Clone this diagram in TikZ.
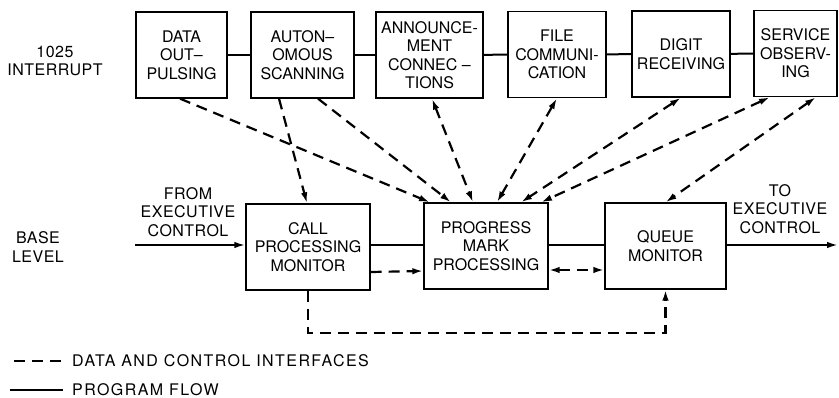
\documentclass[tikz,border=0pt]{standalone}
\usepackage{fontspec}
\setmainfont{TeX Gyre Heros}
\usetikzlibrary{arrows.meta}
\newcommand\boxfont{\fontsize{16}{18.5}\selectfont}
\newcommand\lblfont{\fontsize{16}{18.5}\selectfont\addfontfeature{LetterSpace=3}}
\newcommand\legfont{\fontsize{16}{18.5}\selectfont\addfontfeature{LetterSpace=9}}
\tikzset{
  box/.style={draw, line width=1.3pt, align=center, inner sep=0pt, font=\boxfont},
  topbox/.style={box, minimum height=86pt},
  lowbox/.style={box, minimum width=124pt, minimum height=86pt},
  lbl/.style={align=center, inner sep=0pt, font=\lblfont},
  flow/.style={line width=2pt},
  iface/.style={line width=2.2pt, dash pattern=on 11pt off 7pt},
}
\begin{document}
\begin{tikzpicture}[x=1pt, y=-1pt, >={Latex[length=11pt,width=6.5pt]}]
\useasboundingbox (0,0) rectangle (839,398);

% interrupt-level programs
\node[topbox, minimum width=91pt]  (dop) at (181.5,55) {DATA\\OUT–\\PULSING};
\node[topbox, minimum width=103pt] (aut) at (302.5,55) {AUTON–\\OMOUS\\SCANNING};
\node[topbox, minimum width=107pt] (ann) at (429.5,55) {ANNOUNCE-\\MENT\\CONNEC –\\TIONS};
\node[topbox, minimum width=98pt]  (fil) at (557,54.5) {FILE\\COMMUNI-\\CATION};
\node[topbox, minimum width=98pt]  (dig) at (681,54) {DIGIT\\RECEIVING};
\node[topbox, minimum width=83pt]  (svc) at (795.5,53.5) {SERVICE\\OBSERV-\\ING};

\draw[flow] (dop) -- (aut);
\draw[flow] (aut) -- (ann);
\draw[flow] (ann) -- (fil);
\draw[flow] (fil) -- (dig);
\draw[flow] (dig) -- (svc);

% base-level programs
\node[lowbox] (cpm) at (308,247) {CALL\\PROCESSING\\MONITOR};
\node[lowbox] (pmp) at (486,246) {PROGRESS\\MARK\\PROCESSING};
\node[lowbox, minimum width=121pt] (qm) at (665.5,246) {QUEUE\\MONITOR};

% level labels
\node[lbl] (intr) at (55,61) {1025\\INTERRUPT};
\node[lbl] (base) at (38,247) {BASE\\LEVEL};
\node[lbl] (from) at (188,212) {FROM\\EXECUTIVE\\CONTROL};
\node[lbl] (to)   at (780,209) {TO\\EXECUTIVE\\CONTROL};

% program flow along the base level
\coordinate (in)  at (135,245);
\coordinate (out) at (838,245);
\draw[flow, ->] (in) -- (in -| cpm.west);
\draw[flow] (cpm.east |- 0,245) -- (pmp.west |- 0,245);
\draw[flow] (pmp.east |- 0,245) -- (qm.west |- 0,245);
\draw[flow, ->] (qm.east |- out) -- (out);

% data and control interfaces
\draw[iface, ->] ([xshift=-1.5pt]dop.south) -- ([xshift=-56pt]pmp.north);
\draw[iface, ->] ([xshift=-23.5pt]aut.south) -- ([xshift=-1pt]cpm.north);
\draw[iface, ->] ([xshift=15.5pt]aut.south) -- ([xshift=-35pt]pmp.north);
\draw[iface, <->] ([xshift=2.5pt]ann.south) -- ([xshift=-13pt]pmp.north);
\draw[iface, <->] (fil.south) -- ([xshift=11pt]pmp.north);
\draw[iface, <->] (dig.south) -- ([xshift=35pt]pmp.north);
\draw[iface, <->] ([xshift=-25.5pt]svc.south) -- ([xshift=55pt]pmp.north);
\draw[iface, <->] ([xshift=20.5pt]svc.south) -- (qm.north);

\draw[iface, ->] ([yshift=-25pt]cpm.east) -- ([yshift=-25pt]pmp.west);
\draw[iface, <->] ([yshift=-24pt]pmp.east) -- ([yshift=-24pt]qm.west);
\draw[iface, ->] (cpm.south) -- ++(0,42) -| (qm.south);

% legend
\coordinate (la) at (14,361);
\coordinate (lb) at (63,361);
\coordinate (lc) at (10,390);
\coordinate (ld) at (63,390);
\draw[iface] (la) -- (lb);
\draw[flow] (lc) -- (ld);
\node[lbl, anchor=west, font=\legfont] (lg1) at (72,361) {DATA AND CONTROL INTERFACES};
\node[lbl, anchor=west, font=\legfont] (lg2) at (72,390) {PROGRAM FLOW};
\end{tikzpicture}
\end{document}
